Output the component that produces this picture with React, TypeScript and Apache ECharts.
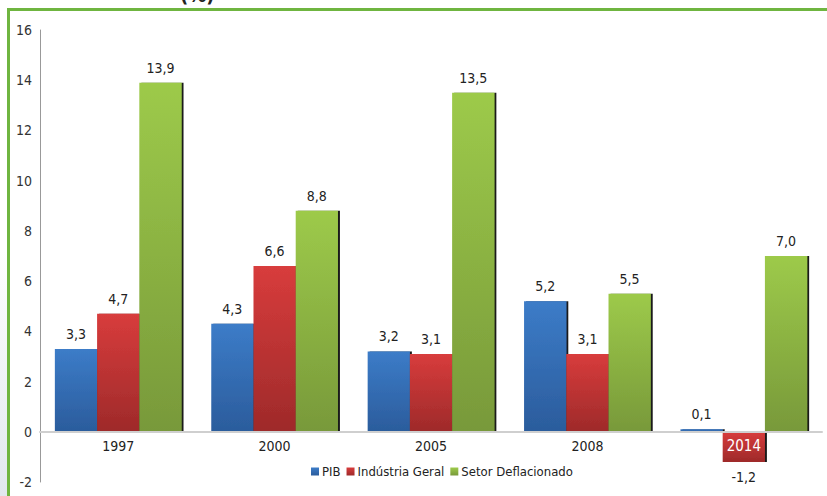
import React, { useEffect, useRef } from "react";
import * as echarts from "echarts";

const categories = ["1997", "2000", "2005", "2008", "2014"];
const pib = [3.3, 4.3, 3.2, 5.2, 0.1];
const industria = [4.7, 6.6, 3.1, 3.1, -1.2];
const setor = [13.9, 8.8, 13.5, 5.5, 7.0];
const seriesNames = ["PIB", "Indústria Geral", "Setor Deflacionado"];

const FONT = "'DejaVu Sans Condensed', 'Liberation Sans Narrow', 'Roboto', sans-serif";

const Y_MIN = -2;
const Y_MAX = 16;
const GRID_TOP = 30;
const GRID_BOTTOM = 14;
const CHART_H = 496;

const grad = (top: string, bottom: string) =>
  new echarts.graphic.LinearGradient(0, 0, 0, 1, [
    { offset: 0, color: top },
    { offset: 1, color: bottom },
  ]);

const fmt = (v: number) => v.toFixed(1).replace(".", ",");

export default function App() {
  const ref = useRef<HTMLDivElement>(null);

  useEffect(() => {
    if (!ref.current) return;
    const chart = echarts.init(ref.current, null, { renderer: "svg" });

    // lift the category axis from the grid bottom up to the zero line
    const plotH = CHART_H - GRID_TOP - GRID_BOTTOM;
    const zeroOffset = -(plotH * (0 - Y_MIN)) / (Y_MAX - Y_MIN);

    const makeSeries = (name: string, data: number[], top: string, bottom: string) => ({
      name,
      type: "bar",
      barGap: "0%",
      barCategoryGap: "19%",
      data: data.map((v) => ({
        value: v,
        label: { position: v < 0 ? "bottom" : "top" },
      })),
      itemStyle: {
        color: grad(top, bottom),
        shadowColor: "rgba(10,10,10,0.95)",
        shadowOffsetX: 2,
        shadowOffsetY: 0,
        shadowBlur: 0,
      },
      label: {
        show: true,
        formatter: (p: any) => fmt(p.value),
        fontFamily: FONT,
        fontSize: 14,
        color: "#222",
        distance: 8,
      },
    });

    chart.setOption({
      animation: false,
      backgroundColor: "#fff",
      grid: { left: 40, right: 5, top: GRID_TOP, bottom: GRID_BOTTOM, containLabel: false },
      legend: {
        data: seriesNames,
        top: 460,
        left: 306,
        itemWidth: 8,
        itemHeight: 8,
        itemGap: 6,
        icon: "rect",
        textStyle: { fontFamily: FONT, fontSize: 13, color: "#222", padding: [0, 0, 0, -2] },
      },
      xAxis: {
        type: "category",
        position: "bottom",
        offset: zeroOffset,
        data: categories.map((c, i) =>
          i === categories.length - 1
            ? { value: c, textStyle: { color: "#fff", fontSize: 15 } }
            : c
        ),
        z: 5,
        axisLine: { onZero: false, lineStyle: { color: "#cfcfcf", width: 2 } },
        axisTick: { show: false },
        axisLabel: { fontFamily: FONT, fontSize: 14, color: "#222", margin: 7 },
      },
      yAxis: {
        type: "value",
        min: Y_MIN,
        max: Y_MAX,
        interval: 2,
        splitLine: { show: false },
        axisLine: { show: true, lineStyle: { color: "#999", width: 1 } },
        axisTick: { show: false },
        axisLabel: { fontFamily: FONT, fontSize: 14, color: "#333", margin: 8 },
      },
      series: [
        makeSeries(seriesNames[0], pib, "#3c7cc8", "#2b5c9c"),
        makeSeries(seriesNames[1], industria, "#d83c3c", "#9e2a2a"),
        makeSeries(seriesNames[2], setor, "#9dca4a", "#78993a"),
      ],
      graphic: [
        {
          type: "rect",
          left: 0,
          top: 250,
          shape: { width: 7, height: 246 },
          style: {
            fill: new echarts.graphic.LinearGradient(0, 0, 0, 1, [
              { offset: 0, color: "rgba(225,232,238,0)" },
              { offset: 1, color: "rgba(225,232,238,1)" },
            ]),
          },
          z: 10,
        },
        {
          type: "rect",
          shape: { x: 7, y: 8, width: 820, height: 3 },
          style: { fill: "#6fb540" },
          z: 10,
        },
        {
          type: "rect",
          shape: { x: 7, y: 8, width: 3, height: 488 },
          style: { fill: "#6fb540" },
          z: 10,
        },
        {
          type: "text",
          x: 180,
          y: -15,
          style: { text: "(%)", fontFamily: FONT, fontSize: 20, fontWeight: "bold", fill: "#222" },
          z: 10,
        },
      ],
    });

    return () => chart.dispose();
  }, []);

  return <div ref={ref} style={{ width: 827, height: 496, position: "absolute", left: 0, top: 0 }} />;
}
